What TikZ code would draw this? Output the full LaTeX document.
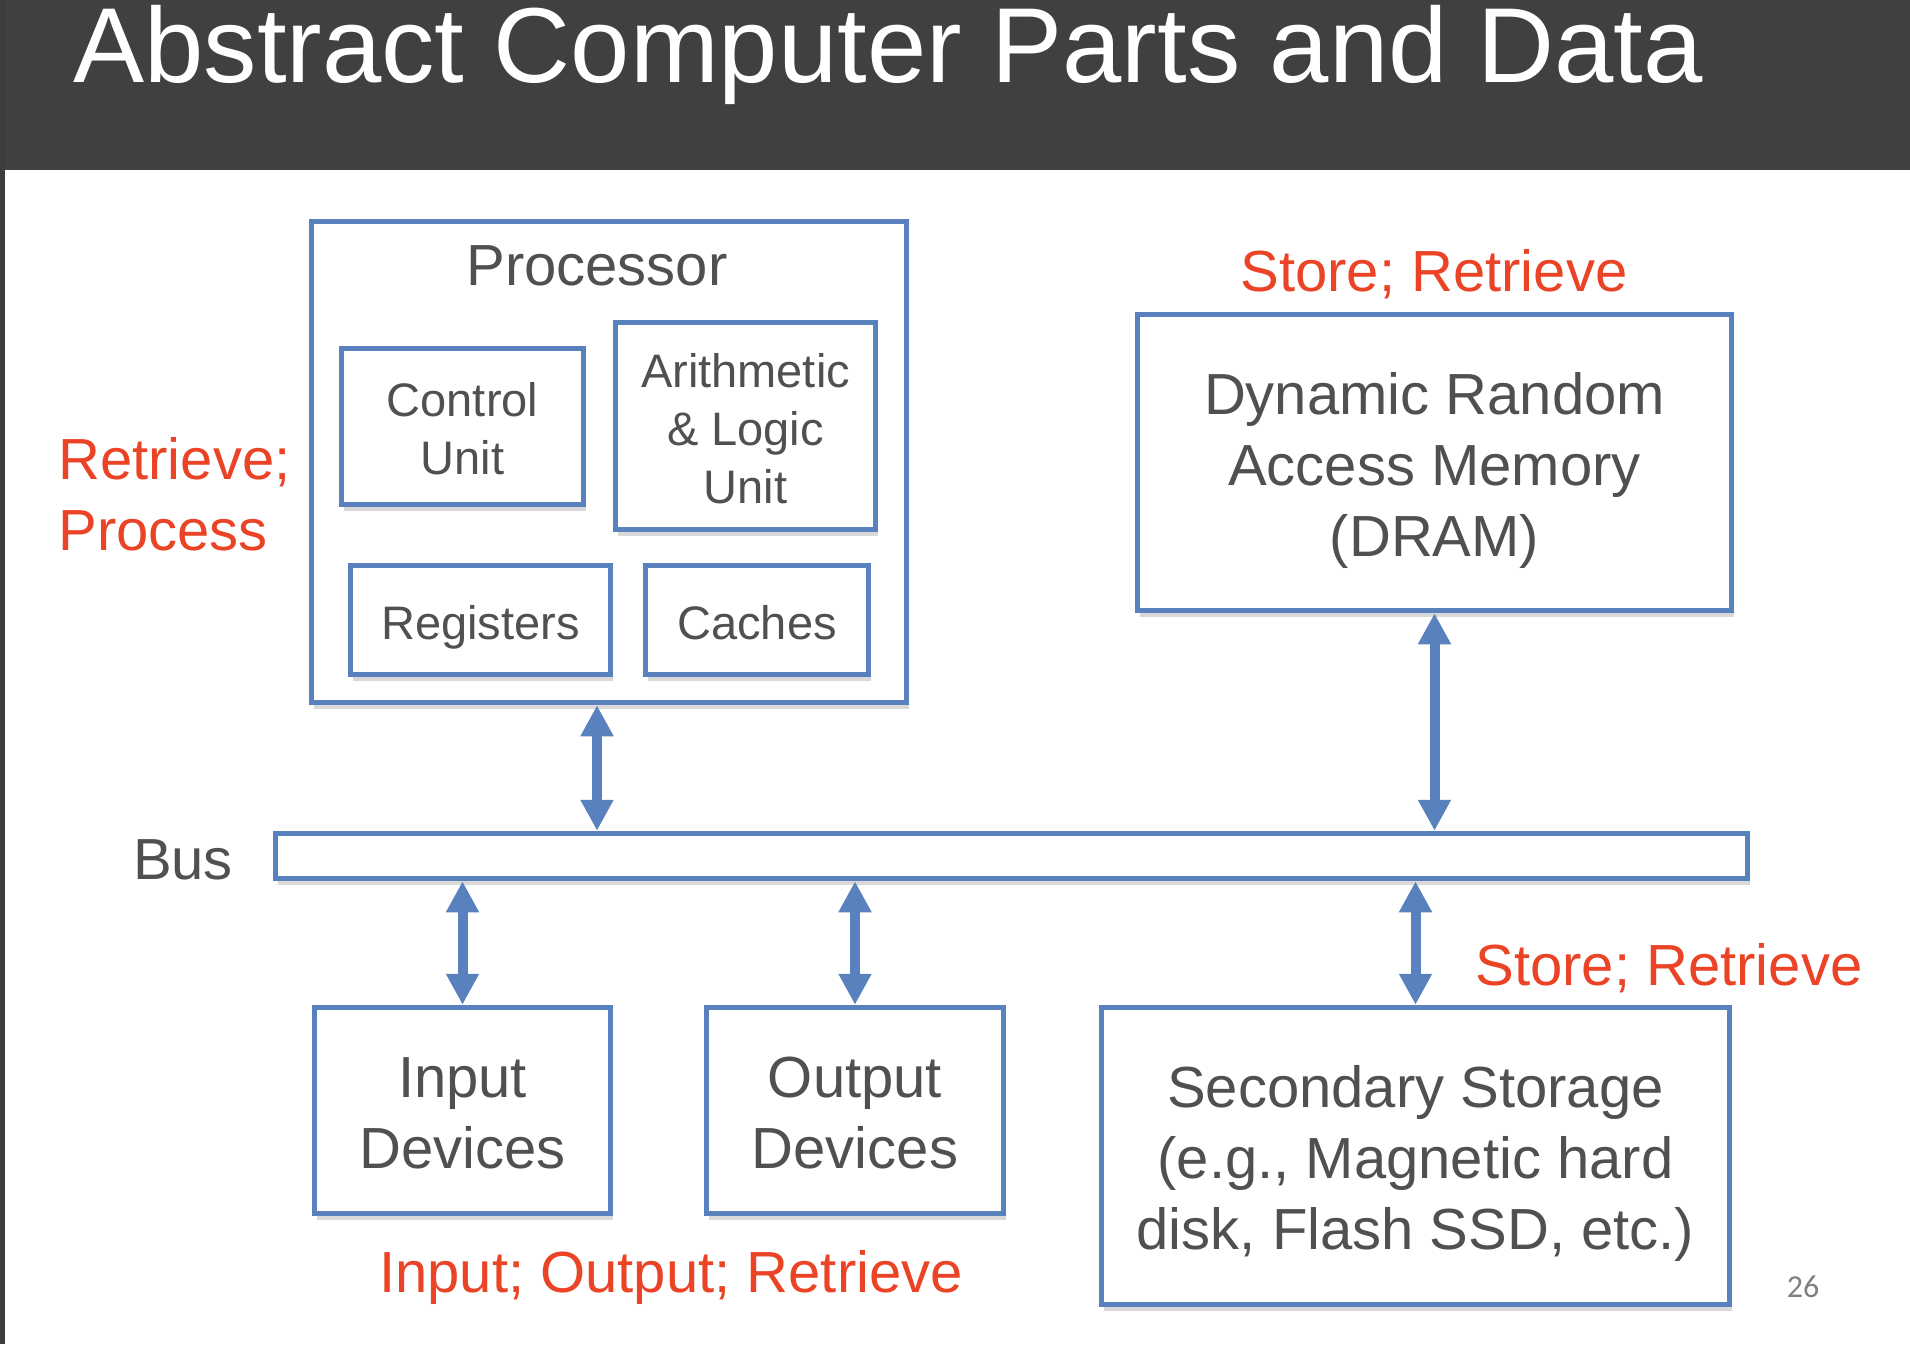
\documentclass[tikz,border=0pt]{standalone}
\usepackage{fontspec}
\setmainfont{Liberation Sans}
\newfontfamily\pagefont{Carlito}
\usepackage{xcolor}
\usetikzlibrary{arrows.meta,positioning,shadows}
\definecolor{partblue}{RGB}{88,129,189}
\definecolor{partgray}{RGB}{80,80,80}
\definecolor{notered}{RGB}{234,67,38}
\definecolor{bannergray}{RGB}{64,64,64}
\definecolor{edgegray}{RGB}{58,60,64}
\newcommand{\bigtop}{\rule{0pt}{29.1pt}}
\newcommand{\bigbot}{\rule[-6.5pt]{0pt}{6.5pt}}
\newcommand{\smalltop}{\rule{0pt}{24.5pt}}
\newcommand{\smallbot}{\rule[-5.2pt]{0pt}{5.2pt}}

\begin{document}
\begin{tikzpicture}[x=0.5pt,y=-0.5pt,
  part/.style={draw=partblue,line width=2.75pt,fill=white,inner sep=0pt,align=center,text=partgray,
    drop shadow={shadow xshift=1pt,shadow yshift=-3pt,opacity=0.15,fill=black}},
  bigtext/.style={font=\fontsize{29}{35.5}\selectfont},
  smalltext/.style={font=\fontsize{23.5}{29}\selectfont},
  bigbox/.style={part,bigtext},
  smallbox/.style={part,smalltext},
  note/.style={text=notered,inner sep=0pt,bigtext},
  link/.style={draw=partblue,line width=5pt,
    {Triangle[length=15.5pt,width=15.5pt]}-{Triangle[length=15.5pt,width=15.5pt]}}]

  \useasboundingbox (0,0) rectangle (1910,1344);
  \fill[white] (0,0) rectangle (1910,1344);
  \fill[bannergray] (0,0) rectangle (1910,170);
  \fill[edgegray] (0,0) rectangle (5,1344);

  \node[anchor=base west,inner sep=0pt,text=white,font=\fontsize{53.3}{60}\selectfont]
    (title) at (73,82) {Abstract Computer Parts and Data};

  \node[part,minimum width=297.5pt,minimum height=240.5pt] (proc) at (609,462) {};
  \node[inner sep=0pt,text=partgray,bigtext] (ptitle) at (597,266) {Processor};
  \node[smallbox,minimum width=121pt,minimum height=78pt] (cu) at (462.5,426.5)
    {\smalltop Control\\Unit\smallbot};
  \node[smallbox,minimum width=130pt,minimum height=103.5pt] (alu) at (745.5,426)
    {\smalltop Arithmetic\\\& Logic\\Unit\smallbot};
  \node[smallbox,minimum width=130pt,minimum height=54.5pt] (regs) at (480.5,620)
    {\smalltop Registers\smallbot};
  \node[smallbox,minimum width=111.5pt,minimum height=54.5pt] (cache) at (757,620)
    {\smalltop Caches\smallbot};

  \node[bigbox,minimum width=297pt,minimum height=148pt] (dram) at (1434.5,462.5)
    {\bigtop Dynamic Random\\Access Memory\\(DRAM)\bigbot};

  \node[part,minimum width=736pt,minimum height=22.5pt] (bus) at (1011.5,856) {};
  \node[inner sep=0pt,text=partgray,bigtext] (buslabel) at (183,860) {Bus};

  \node[bigbox,minimum width=148pt,minimum height=103pt] (input) at (462.5,1110.5)
    {\bigtop Input\\Devices\bigbot};
  \node[bigbox,minimum width=148.5pt,minimum height=103pt] (output) at (855,1110.5)
    {\bigtop Output\\Devices\bigbot};
  \node[bigbox,minimum width=314pt,minimum height=148.5pt] (store) at (1415.5,1156)
    {\bigtop Secondary Storage\\(e.g., Magnetic hard\\disk, Flash SSD, etc.)\bigbot};

  \node[note,align=left,anchor=west] (procnote) at (58,494) {Retrieve;\\Process};
  \node[note] (dramnote) at (1434,274) {Store; Retrieve};
  \node[note] (storenote) at (1669,968) {Store; Retrieve};
  \node[note] (ionote) at (671,1277) {Input; Output; Retrieve};

  \node[inner sep=0pt,text=gray,font=\pagefont\fontsize{16}{18}\selectfont] (page) at (1803,1287) {26};

  \draw[link] (ptitle |- proc.south) -- (ptitle |- bus.north);
  \draw[link] (dram.south) -- (dram.south |- bus.north);
  \draw[link] (input.north |- bus.south) -- (input.north);
  \draw[link] (output.north |- bus.south) -- (output.north);
  \draw[link] (store.north |- bus.south) -- (store.north);

\end{tikzpicture}
\end{document}
